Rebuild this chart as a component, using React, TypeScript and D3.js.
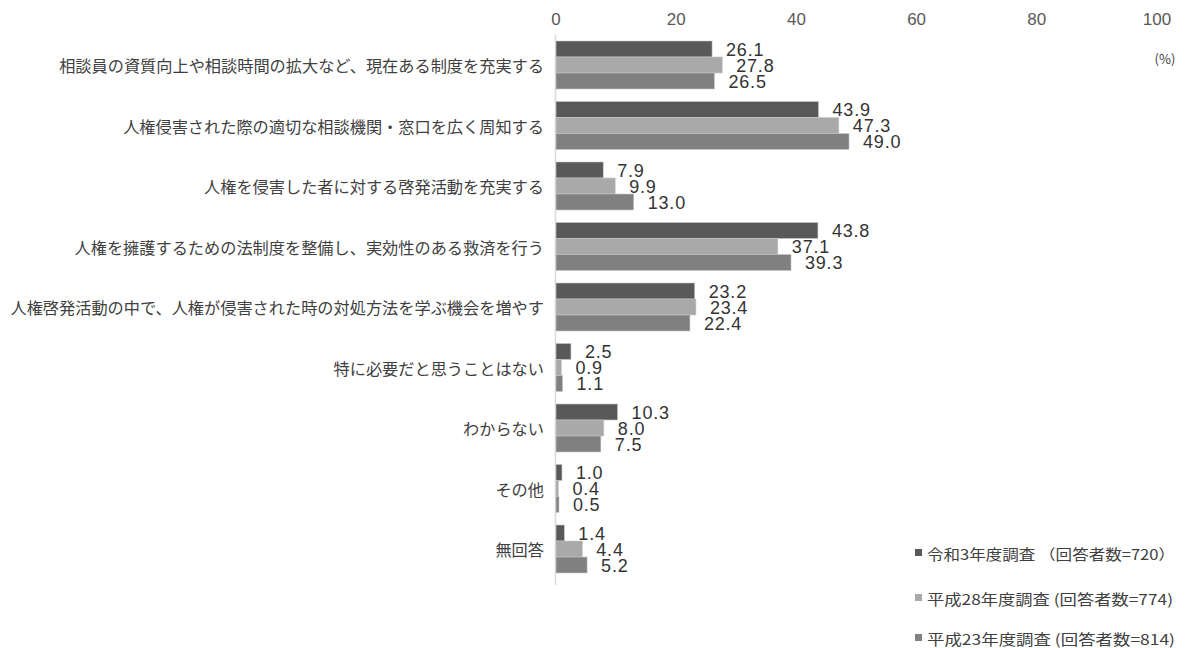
import React from "react";
import * as d3 from "d3";

const categories = [
  "相談員の資質向上や相談時間の拡大など、現在ある制度を充実する",
  "人権侵害された際の適切な相談機関・窓口を広く周知する",
  "人権を侵害した者に対する啓発活動を充実する",
  "人権を擁護するための法制度を整備し、実効性のある救済を行う",
  "人権啓発活動の中で、人権が侵害された時の対処方法を学ぶ機会を増やす",
  "特に必要だと思うことはない",
  "わからない",
  "その他",
  "無回答",
];

const seriesNames = [
  "令和3年度調査 （回答者数=720）",
  "平成28年度調査 (回答者数=774)",
  "平成23年度調査 (回答者数=814)",
];

const r3 = [26.1, 43.9, 7.9, 43.8, 23.2, 2.5, 10.3, 1.0, 1.4];
const h28 = [27.8, 47.3, 9.9, 37.1, 23.4, 0.9, 8.0, 0.4, 4.4];
const h23 = [26.5, 49.0, 13.0, 39.3, 22.4, 1.1, 7.5, 0.5, 5.2];

const ticks = [0, 20, 40, 60, 80, 100];

const colors = ["#595959", "#a9a9a9", "#808080"];

export default function App() {
  const W = 1186;
  const H = 648;
  const x = d3.scaleLinear().domain([0, 100]).range([556, 1154]);
  const p = 12.5 / 60.5;
  const y = d3
    .scaleBand<string>()
    .domain(categories)
    .range([41, 41 + 60.5 * (9 - p)])
    .paddingInner(p)
    .paddingOuter(0);
  const ys = d3.scaleBand<number>().domain([0, 1, 2]).range([0, y.bandwidth()]);
  const data = [r3, h28, h23];
  const font = "'Liberation Sans', Arial, sans-serif";
  const jfont = "'Noto Sans CJK JP', sans-serif";
  const legendY = [553, 598, 638];
  const legendLen = [248, 246, 248];

  return (
    <svg width={W} height={H} style={{ position: "absolute", left: 0, top: 0, background: "#fff" }}>
      {ticks.map((t) => (
        <text key={t} x={x(t) + t * 0.03} y={25} textAnchor="middle" fontFamily={font} fontSize={17} fill="#595959">
          {t}
        </text>
      ))}
      <text x={1165} y={64} textAnchor="middle" fontFamily={jfont} fontSize={13} fill="#404040">
        (%)
      </text>
      <line x1={x(0) - 0.5} x2={x(0) - 0.5} y1={35} y2={585} stroke="#d9d9d9" strokeWidth={1.5} />
      {categories.map((c, i) => (
        <g key={c}>
          <text
            x={544}
            y={(y(c) as number) + y.bandwidth() / 2}
            textAnchor="end"
            dominantBaseline="central"
            fontFamily={jfont}
            fontSize={16.2}
            fill="#404040"
          >
            {c}
          </text>
          {data.map((s, k) => {
            const y0 = (y(c) as number) + (ys(k) as number);
            return (
              <g key={k}>
                <rect
                  x={x(0)}
                  y={y0}
                  width={x(s[i]) - x(0)}
                  height={ys.bandwidth()}
                  fill={colors[k]}
                  stroke="#c8c8c8"
                  strokeWidth={0.6}
                />
                <text
                  x={x(s[i]) + 14}
                  y={y0 + ys.bandwidth() - 1.5}
                  fontFamily={font}
                  fontSize={18}
                  letterSpacing={0.8}
                  fill="#333"
                >
                  {s[i].toFixed(1)}
                </text>
              </g>
            );
          })}
        </g>
      ))}
      {seriesNames.map((n, k) => {
        const ly = legendY[k];
        return (
          <g key={n}>
            <rect x={915} y={ly - 4} width={7} height={7} fill={colors[k]} />
            <text
              x={927}
              y={ly}
              dominantBaseline="central"
              fontFamily={jfont}
              fontSize={14.5}
              fill="#404040"
              textLength={legendLen[k]}
              lengthAdjust="spacingAndGlyphs"
            >
              {n}
            </text>
          </g>
        );
      })}
    </svg>
  );
}
